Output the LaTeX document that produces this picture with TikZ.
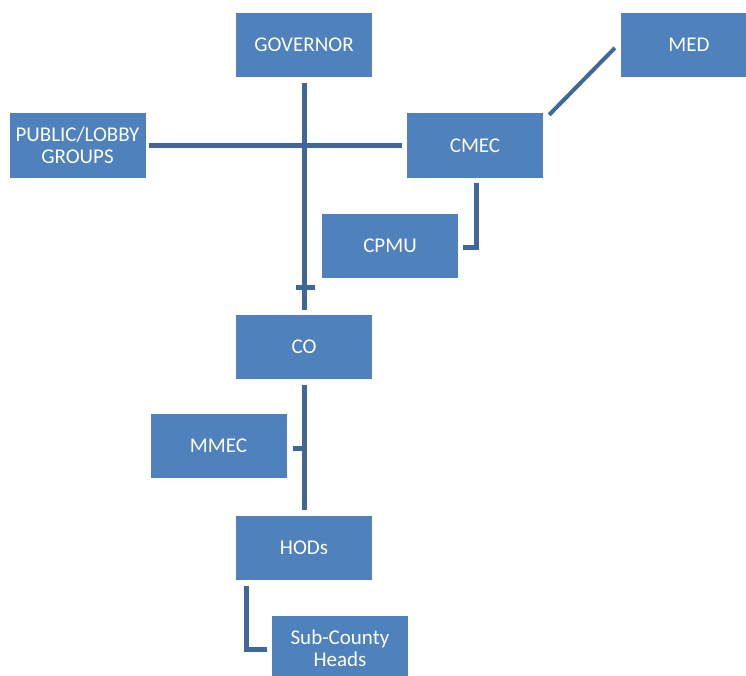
\documentclass[tikz,border=0pt]{standalone}
\usepackage{fontspec}
\setmainfont{Carlito}
\definecolor{boxblue}{RGB}{79,129,189}
\definecolor{lineblue}{RGB}{64,103,155}

\begin{document}
\begin{tikzpicture}[x=1pt,y=1pt,
    unit/.style={fill=boxblue,text=white,minimum width=136pt,minimum height=64pt,
        inner sep=0pt,align=center,font=\fontsize{21}{22}\selectfont},
    link/.style={lineblue,line width=5pt}]
    \useasboundingbox (0,0) rectangle (746,675);

    \node[unit] (gov) at (304,630) {GOVERNOR};
    \node[unit] (med) at (689,630) {MED};
    \node[unit,minimum height=65pt] (public) at (77.5,529.5) {PUBLIC/LOBBY\\GROUPS};
    \node[unit,minimum height=65pt] (cmec) at (475,529.5) {CMEC};
    \node[unit] (cpmu) at (390,429) {CPMU};
    \node[unit] (co) at (304,328) {CO};
    \node[unit] (mmec) at (218.5,229) {MMEC};
    \node[unit] (hods) at (304,127) {HODs};
    \node[unit] (sub) at (340,27) {Sub-County\\Heads};

    % main line and cross line
    \draw[link,shorten <=6pt,shorten >=5pt] (gov.south) -- (co.north);
    \draw[link,shorten <=3pt,shorten >=5pt] (public.east) -- (cmec.west);
    \draw[link] ([xshift=-8pt,yshift=27pt]co.north) -- ([xshift=11pt,yshift=27pt]co.north);
    \draw[link,line width=4pt] ([xshift=6pt,yshift=-2pt]cmec.north east) -- ([xshift=-6pt,yshift=-3pt]med.west);
    \draw[link] ([xshift=1pt,yshift=-5pt]cmec.south) |- ([xshift=5pt,yshift=-2pt]cpmu.east);

    \draw[link,shorten <=6pt,shorten >=6pt] (co.south) -- (hods.north);
    \draw[link] ([xshift=6.5pt,yshift=-2pt]mmec.east) -- ([yshift=-2pt]co.south |- mmec.east);
    \draw[link] ([xshift=11pt,yshift=-6pt]hods.south west) |- ([xshift=-5pt,yshift=-1pt]sub.west);
\end{tikzpicture}
\end{document}
